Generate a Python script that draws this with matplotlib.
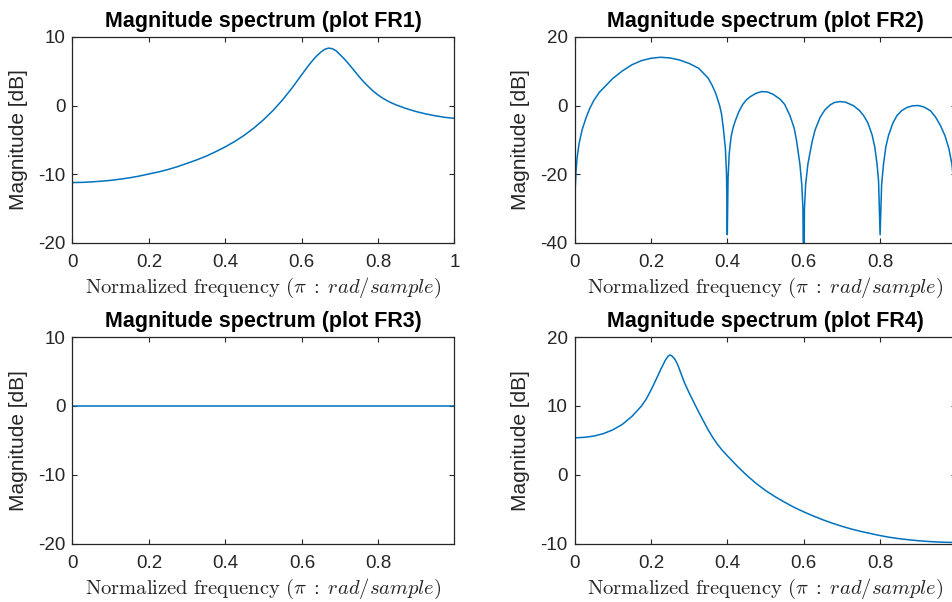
import matplotlib
matplotlib.use("Agg")
import matplotlib.pyplot as plt

# frequency response readings (x in units of pi, y in dB)
fr1_w = [0.0, 0.025, 0.05, 0.075, 0.1, 0.125, 0.15, 0.175, 0.2, 0.225, 0.25,
         0.275, 0.3, 0.325, 0.35, 0.375, 0.4, 0.425, 0.45, 0.475, 0.5, 0.525,
         0.55, 0.575, 0.6, 0.6125, 0.625, 0.6375, 0.65, 0.66, 0.67, 0.68, 0.69,
         0.7, 0.7125, 0.725, 0.7375, 0.75, 0.7625, 0.775, 0.7875, 0.8, 0.8125,
         0.825, 0.8375, 0.85, 0.875, 0.9, 0.925, 0.95, 0.975, 1.0]
fr1_db = [-11.2, -11.17, -11.1, -11.0, -10.88, -10.7, -10.5, -10.25, -9.95, -9.65, -9.3,
          -8.88, -8.4, -7.9, -7.35, -6.7, -6.0, -5.2, -4.3, -3.25, -2.05, -0.7,
          0.85, 2.6, 4.5, 5.45, 6.35, 7.15, 7.8, 8.2, 8.38, 8.3, 8.0,
          7.45, 6.75, 5.95, 5.1, 4.25, 3.45, 2.75, 2.1, 1.55, 1.08,
          0.68, 0.34, 0.05, -0.45, -0.87, -1.2, -1.48, -1.7, -1.85]

fr2_w = [0.0, 0.001, 0.002, 0.004, 0.007, 0.012, 0.02, 0.03, 0.04, 0.05, 0.065,
         0.08, 0.1, 0.125, 0.15, 0.175, 0.2, 0.225, 0.25, 0.275, 0.3, 0.325,
         0.35, 0.36, 0.37, 0.38, 0.385, 0.39, 0.395, 0.398, 0.4,
         0.402, 0.405, 0.41, 0.415, 0.42, 0.43, 0.44, 0.45, 0.46, 0.475, 0.49,
         0.505, 0.52, 0.538, 0.55, 0.564, 0.575, 0.581, 0.59, 0.595, 0.598, 0.6,
         0.602, 0.605, 0.611, 0.622, 0.63, 0.643, 0.655, 0.669, 0.68, 0.695,
         0.71, 0.73, 0.745, 0.757, 0.768, 0.779, 0.786, 0.792, 0.796, 0.8,
         0.804, 0.809, 0.815, 0.822, 0.833, 0.844, 0.857, 0.871, 0.885, 0.9,
         0.915, 0.932, 0.945, 0.958, 0.97, 0.98, 0.988, 0.994, 0.997, 1.0]
fr2_db = [-60, -30, -24, -19, -15, -11, -7, -3.6, -0.8, 1.4, 3.9,
          5.6, 7.9, 10.1, 11.9, 13.1, 13.8, 14.1, 13.9, 13.3, 12.3, 10.9,
          8.0, 6.0, 3.5, 0.0, -2.5, -7.0, -12.5, -20, -37.6,
          -21, -14, -9, -6.5, -4.7, -1.8, 0.3, 1.7, 2.6, 3.6, 4.1,
          4.0, 3.3, 1.9, 0.4, -2.9, -6.5, -10, -17, -23, -30, -60,
          -30, -23, -17, -10.5, -7, -3.4, -1.3, 0.2, 0.9, 1.2,
          1.0, 0.0, -1.3, -2.9, -5.0, -8.5, -12, -17, -22, -37.6,
          -23, -17, -12, -8.7, -5.2, -2.9, -1.4, -0.5, -0.05, 0.05,
          -0.4, -1.5, -3.3, -5.8, -8.8, -12.5, -17, -24, -29, -60]

fr3_w = [0.0, 0.999]
fr3_db = [0.0, 0.0]

fr4_w = [0.0, 0.025, 0.05, 0.075, 0.1, 0.125, 0.15, 0.175, 0.1875, 0.2, 0.2125,
         0.225, 0.2375, 0.245, 0.25, 0.255, 0.2625, 0.27, 0.2775, 0.2875, 0.3,
         0.3125, 0.325, 0.3375, 0.35, 0.3625, 0.375, 0.3875, 0.4, 0.425, 0.45,
         0.475, 0.5, 0.525, 0.55, 0.575, 0.6, 0.625, 0.65, 0.675, 0.7, 0.725,
         0.75, 0.775, 0.8, 0.825, 0.85, 0.875, 0.9, 0.925, 0.95, 0.975, 1.0]
fr4_db = [5.35, 5.42, 5.6, 5.95, 6.5, 7.3, 8.45, 9.95, 10.95, 12.25, 13.7,
          15.2, 16.6, 17.2, 17.4, 17.25, 16.8, 16.0, 14.9, 13.4, 11.9,
          10.5, 9.1, 7.8, 6.5, 5.35, 4.35, 3.5, 2.75, 1.3, -0.05,
          -1.25, -2.3, -3.2, -4.0, -4.75, -5.4, -6.0, -6.55, -7.05, -7.5, -7.9,
          -8.25, -8.55, -8.85, -9.1, -9.3, -9.46, -9.6, -9.7, -9.78, -9.83, -9.85]

titles = ["Magnitude spectrum (plot FR1)", "Magnitude spectrum (plot FR2)",
          "Magnitude spectrum (plot FR3)", "Magnitude spectrum (plot FR4)"]
ylims = [(-20, 10), (-40, 20), (-20, 10), (-10, 20)]
yticks = [[-20, -10, 0, 10], [-40, -20, 0, 20], [-20, -10, 0, 10], [-10, 0, 10, 20]]
xlims = [(0, 1), (0, 1), (0, 0.999), (0, 1)]
xticks = [[0, 0.2, 0.4, 0.6, 0.8, 1], [0, 0.2, 0.4, 0.6, 0.8, 1],
          [0, 0.2, 0.4, 0.6, 0.8], [0, 0.2, 0.4, 0.6, 0.8, 1]]
xtick_labels = ["0", "0.2", "0.4", "0.6", "0.8", "1"]
series = [(fr1_w, fr1_db), (fr2_w, fr2_db), (fr3_w, fr3_db), (fr4_w, fr4_db)]

plt.rcParams["font.family"] = ["Liberation Sans", "DejaVu Sans"]
plt.rcParams["mathtext.fontset"] = "cm"

W, H = 953, 602
fig = plt.figure(figsize=(W / 100, H / 100), dpi=100)

# axes boxes in pixels: left, top, width, height
boxes = [(72.5, 37, 382, 206), (574.5, 37, 382, 206),
         (72.5, 337, 382, 206.5), (574.5, 337, 382, 206.5)]

dark = "#262626"
for i, (x0, y0, bw, bh) in enumerate(boxes):
    ax = fig.add_axes([x0 / W, 1 - (y0 + bh) / H, bw / W, bh / H])
    w, db = series[i]
    ax.plot(w, db, color="#0072BD", lw=1.1)
    ax.set_xlim(*xlims[i])
    ax.set_ylim(*ylims[i])
    ax.set_xticks(xticks[i])
    ax.set_xticklabels(xtick_labels[:len(xticks[i])])
    ax.set_yticks(yticks[i])
    ax.set_yticklabels([str(t) for t in yticks[i]])
    ax.tick_params(direction="in", length=3.5, width=0.8, colors=dark,
                   labelsize=13.5, top=True, right=True, pad=5)
    ax.tick_params(axis="x", pad=8)
    for s in ax.spines.values():
        s.set_color(dark)
        s.set_linewidth(0.9)
    ax.set_title(titles[i], fontsize=15.5, fontweight="bold", pad=7)
    ax.set_ylabel("Magnitude [dB]", fontsize=15, color=dark)
    ax.yaxis.set_label_coords(-44 / bw, 0.5)
    ax.set_xlabel(r"$\mathrm{Normalized\ frequency}\ (\pi\;:\;rad/sample)$",
                  fontsize=14.8, color=dark)
    ax.xaxis.set_label_coords(0.5, -33 / bh)

fig.savefig("out.png", dpi=100)
